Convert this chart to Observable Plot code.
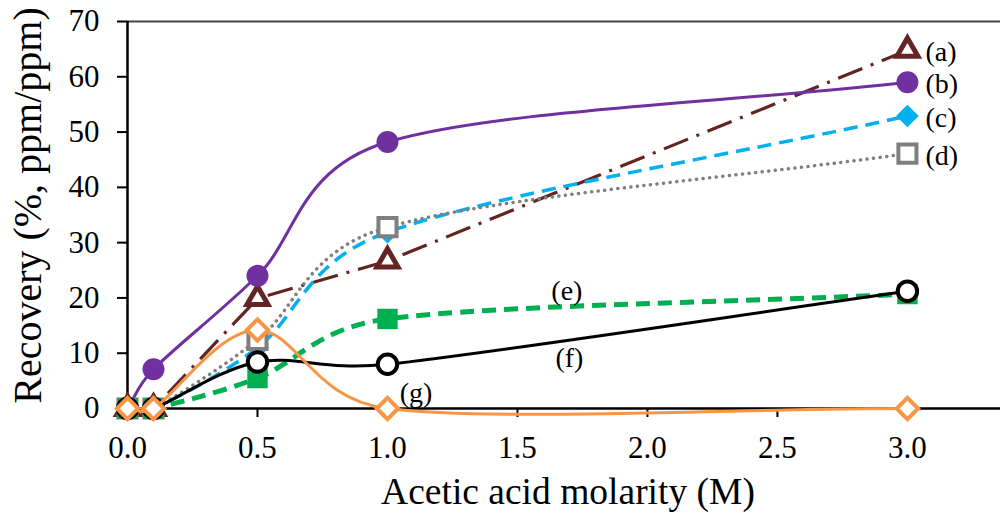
<!DOCTYPE html>
<html>
<head>
<meta charset="utf-8">
<script src="https://cdn.jsdelivr.net/npm/d3@7"></script>
<script src="https://cdn.jsdelivr.net/npm/@observablehq/plot@0.6"></script>
<style>
  html, body { margin: 0; padding: 0; background: #ffffff; overflow: hidden; }
  #chart svg { display: block; }
</style>
</head>
<body>
<div id="chart"></div>
<script>
// ---- data ----
const molarity = [0, 0.1, 0.5, 1.0, 3.0];
const seriesA = [0, 0, 19.9, 26.7, 64.8];
const seriesB = [0, 7.1, 24.0, 48.2, 59.0];
const seriesC = [0, 0, 11.0, 31.9, 52.9];
const seriesD = [0, 0, 12.4, 32.8, 46.1];
const seriesE = [0, 0, 5.5, 16.2, 20.7];
const seriesF = [0, 0, 8.4, 8.0, 21.2];
const seriesG = [0, 0, 14.2, 0, 0];
const endLabels = ["(a)", "(b)", "(c)", "(d)"];
const inlineLabels = ["(e)", "(f)", "(g)"];
const inlineLabelX = [1.69, 1.70, 1.11];
const inlineLabelY = [21.3, 9.1, 2.8];
const xTicks = [0, 0.5, 1.0, 1.5, 2.0, 2.5, 3.0];
const yTicks = [0, 10, 20, 30, 40, 50, 60, 70];
const xTitle = "Acetic acid molarity (M)";
const yTitle = "Recovery (%, ppm/ppm)";

// Spreadsheet-style smoothed line (Bezier with limited tangents), in screen space
function SmoothCurve(context) { this._context = context; }
SmoothCurve.prototype = {
  areaStart() { this._line = 0; },
  areaEnd() { this._line = NaN; },
  lineStart() { this._pts = []; },
  point(x, y) { this._pts.push([+x, +y]); },
  lineEnd() {
    const p = this._pts, n = p.length, c = this._context;
    if (!n) return;
    c.moveTo(p[0][0], p[0][1]);
    for (let i = 0; i < n - 1; i++) {
      const p0 = p[Math.max(i - 1, 0)], p1 = p[i], p2 = p[i + 1], p3 = p[Math.min(i + 2, n - 1)];
      const d12 = Math.hypot(p2[0] - p1[0], p2[1] - p1[1]);
      const f0 = i === 0 ? 1 / 3 : 1 / 6;
      const f3 = i + 2 > n - 1 ? 1 / 3 : 1 / 6;
      let t1x = (p2[0] - p0[0]) * f0, t1y = (p2[1] - p0[1]) * f0;
      let l1 = Math.hypot(t1x, t1y);
      if (l1 > d12 / 2) { t1x *= d12 / 2 / l1; t1y *= d12 / 2 / l1; }
      let t2x = (p3[0] - p1[0]) * f3, t2y = (p3[1] - p1[1]) * f3;
      let l2 = Math.hypot(t2x, t2y);
      if (l2 > d12 / 2) { t2x *= d12 / 2 / l2; t2y *= d12 / 2 / l2; }
      c.bezierCurveTo(p1[0] + t1x, p1[1] + t1y, p2[0] - t2x, p2[1] - t2y, p2[0], p2[1]);
    }
  }
};
const smooth = (context) => new SmoothCurve(context);

const rows = (vals) => molarity.map((m, i) => ({x: m, y: vals[i]}));

const specs = [
  {vals: seriesA, stroke: "#632523", width: 3.2, dash: "26,9,3,9", curve: "linear",
   symbol: "triangle", r: 7.8, fill: "white", mstroke: "#632523", mwidth: 5},
  {vals: seriesB, stroke: "#7030a0", width: 3, dash: null, curve: smooth,
   symbol: "circle", r: 11, fill: "#7030a0", mstroke: "none", mwidth: 0},
  {vals: seriesC, stroke: "#00b0f0", width: 3.5, dash: "14,8", curve: smooth,
   symbol: "diamond2", r: 10.2, fill: "#00b0f0", mstroke: "none", mwidth: 0},
  {vals: seriesD, stroke: "#7f7f7f", width: 3.5, dash: "0.1,6.5", cap: "round", curve: smooth,
   symbol: "square", r: 10.2, fill: "white", mstroke: "#7f7f7f", mwidth: 4},
  {vals: seriesE, stroke: "#00b050", width: 5, dash: "14,8", curve: smooth,
   symbol: "square", r: 11.5, fill: "#00b050", mstroke: "none", mwidth: 0},
  {vals: seriesF, stroke: "#000000", width: 3, dash: null, curve: smooth,
   symbol: "circle", r: 9.7, fill: "white", mstroke: "#000000", mwidth: 4},
  {vals: seriesG, stroke: "#f79646", width: 3, dash: null, curve: smooth,
   symbol: "diamond2", r: 9.6, fill: "white", mstroke: "#f79646", mwidth: 4}
];

const seriesMarks = specs.flatMap(s => [
  Plot.line(rows(s.vals), {x: "x", y: "y", stroke: s.stroke, strokeWidth: s.width,
    strokeDasharray: s.dash, strokeLinecap: s.cap || "butt", curve: s.curve}),
  Plot.dot(rows(s.vals), {x: "x", y: "y", symbol: s.symbol, r: s.r, fill: s.fill,
    stroke: s.mstroke, strokeWidth: s.mwidth})
]);

const endRows = endLabels.map((t, i) => ({t, x: molarity[4], y: specs[i].vals[4]}));
const inlineRows = inlineLabels.map((t, i) => ({t, x: inlineLabelX[i], y: inlineLabelY[i]}));

const chart = Plot.plot({
  width: 1001,
  height: 513,
  marginLeft: 127,
  marginRight: 1,
  marginTop: 21,
  marginBottom: 105,
  x: {domain: [0, 3.358]},
  y: {domain: [0, 70]},
  style: {fontFamily: "'Liberation Serif', 'Times New Roman', serif", color: "#000", background: "#fff"},
  marks: [
    Plot.ruleY([70], {stroke: "#444", strokeWidth: 2}),
    Plot.axisX({ticks: xTicks, tickFormat: d => d.toFixed(1), tickSize: 9, tickPadding: 18,
      fontSize: 31, label: null, strokeWidth: 2}),
    Plot.axisY({ticks: yTicks, tickSize: 10, tickPadding: 18, fontSize: 31, label: null, strokeWidth: 2}),
    Plot.ruleX([0], {strokeWidth: 2.5}),
    Plot.ruleY([0], {strokeWidth: 2.5}),
    ...seriesMarks,
    Plot.text(endRows, {x: "x", y: "y", text: "t", textAnchor: "start", dx: 18, dy: 2, fontSize: 28}),
    Plot.text(inlineRows, {x: "x", y: "y", text: "t", fontSize: 28}),
    Plot.text([xTitle], {frameAnchor: "bottom", lineAnchor: "bottom", textAnchor: "middle", dy: 95, dx: 4, fontSize: 37.5}),
    Plot.text([yTitle], {frameAnchor: "left", textAnchor: "middle", lineAnchor: "middle", rotate: -90, dx: -99, dy: -9.5, fontSize: 40})
  ]
});
document.getElementById("chart").appendChild(chart);
</script>
</body>
</html>
